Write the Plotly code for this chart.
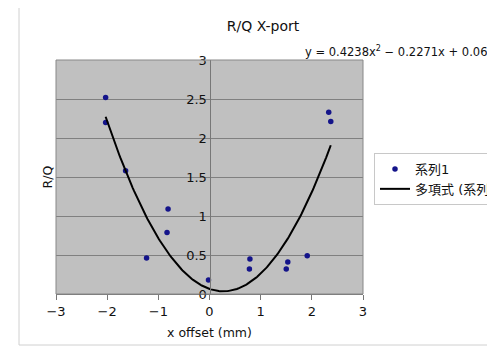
import numpy as np
import plotly.graph_objects as go

x_offset = [-2.03, -2.03, -1.64, -1.23, -0.81, -0.83, -0.02, 0.79, 0.78, 1.53, 1.50, 1.91, 2.33, 2.37]
rq = [2.52, 2.20, 1.58, 0.46, 1.09, 0.79, 0.18, 0.45, 0.32, 0.41, 0.32, 0.49, 2.33, 2.21]
poly_coef = [0.4238, -0.2271, 0.065]  # trendline coefficients shown in the label
y_ticks = [0, 0.5, 1, 1.5, 2, 2.5, 3]
x_ticks = [-3, -2, -1, 0, 1, 2, 3]

FONT = "DejaVu Sans, Noto Sans CJK JP, sans-serif"

# page body adds an 8px offset; lay out in reference pixel coords minus that
OFF = 8
W, H = 495 - OFF, 346 - OFF
L, T = 56 - OFF, 60 - OFF
PW, PH = 307, 234
R, B = W - L - PW, H - T - PH


def px(xp):
    return (xp - OFF - L) / PW


def py(yp):
    return (T + PH - (yp - OFF)) / PH


xs = np.linspace(min(x_offset), max(x_offset), 200)
ys = np.polyval(poly_coef, xs)

fig = go.Figure()
fig.add_trace(go.Scatter(x=x_offset, y=rq, mode="markers", name="系列1",
                         marker=dict(color="#14148a", size=5.5, symbol="circle")))
fig.add_trace(go.Scatter(x=xs, y=ys, mode="lines", name="多項式 (系列1)",
                         line=dict(color="black", width=2)))

fig.update_layout(
    width=W, height=H,
    margin=dict(l=L, r=R, t=T, b=B, autoexpand=False),
    paper_bgcolor="white", plot_bgcolor="#c0c0c0",
    font=dict(family=FONT, size=13, color="#111"),
    title=dict(text="R/Q X-port", x=(263 - OFF) / W, xanchor="center", y=1 - (26 - OFF) / H,
               yanchor="middle", font=dict(size=14)),
    showlegend=True,
    legend=dict(x=px(374), y=py(153), xanchor="left", yanchor="top",
                bgcolor="white", bordercolor="#c8c8c8", borderwidth=1,
                font=dict(size=13), tracegroupgap=0, itemwidth=30),
    xaxis=dict(range=[-3, 3], tickvals=x_ticks, ticktext=[str(v).replace("-", "−") for v in x_ticks],
               showgrid=False, zeroline=False, showline=True, linecolor="#777",
               ticks="outside", ticklen=5, tickcolor="#777", tickfont=dict(size=13),
               title=dict(text="x offset (mm)", font=dict(size=12.5), standoff=10)),
    yaxis=dict(range=[0, 3], tickvals=y_ticks, ticktext=["0", "0.5", "1", "1.5", "2", "2.5", "3"],
               anchor="free", position=0.5, showline=True, linecolor="#777",
               showgrid=True, gridcolor="#808080", gridwidth=1, zeroline=False,
               ticks="", tickfont=dict(size=13)),
)

# y-axis title placed at left of plot area (axis itself crosses at x=0)
fig.add_annotation(text="R/Q", xref="paper", yref="paper", x=px(37), y=py(177),
                   textangle=-90, showarrow=False, font=dict(size=12.5, family=FONT))
# trendline equation label
fig.add_annotation(text="y = 0.4238x<sup>2</sup> − 0.2271x + 0.065", xref="paper", yref="paper",
                   x=px(303), y=py(52), xanchor="left", yanchor="middle",
                   showarrow=False, font=dict(size=11.5, family=FONT))
# chart area border
fig.add_shape(type="rect", xref="paper", yref="paper",
              x0=px(19), x1=px(520), y0=py(345), y1=py(7),
              line=dict(color="#d0d0d0", width=1), fillcolor="rgba(0,0,0,0)", layer="below")
# plot area border
fig.add_shape(type="rect", xref="paper", yref="paper", x0=0, x1=1, y0=0, y1=1,
              line=dict(color="#888", width=1))

fig.write_html("out.html")
